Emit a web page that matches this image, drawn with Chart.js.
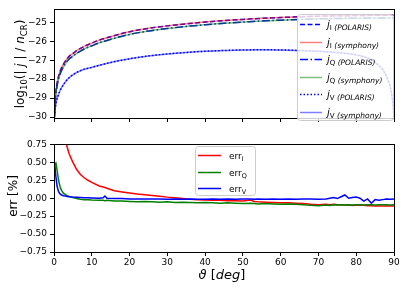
<!DOCTYPE html>
<html lang="en">
<head>
<meta charset="UTF-8">
<script src="https://cdn.jsdelivr.net/npm/chart.js"></script>
<title>j / err</title>
<style>
  body { margin: 0; background: #fff; }
  #top { position: absolute; left: 0; top: 0; width: 407px; height: 136px; }
  #bot { position: absolute; left: 0; top: 136px; width: 407px; height: 152px; }
</style>
</head>
<body>
<div id="top"><canvas id="jPlot"></canvas></div>
<div id="bot"><canvas id="errPlot"></canvas></div>
<script>
// ---- data ----
const thetaTicks = [0, 10, 20, 30, 40, 50, 60, 70, 80, 90];
const jTicks = [-30, -29, -28, -27, -26, -25];
const errTicks = [-0.75, -0.5, -0.25, 0, 0.25, 0.5, 0.75];

const jTheta = [0.1, 0.2, 0.35, 0.5, 0.75, 1, 1.5, 2, 3, 4, 5, 6, 8, 10, 12, 15, 20, 25, 30, 35,
  40, 45, 50, 55, 60, 65, 70, 75, 80, 82, 84, 86, 87, 88, 89, 89.5, 89.8, 89.9];
const jI = [-29.95, -29.4, -28.95, -28.65, -28.3, -28.02, -27.66, -27.4, -27.05, -26.8, -26.65, -26.5,
  -26.27, -26.1, -25.94, -25.76, -25.5, -25.32, -25.19, -25.08, -24.99, -24.91, -24.85, -24.79, -24.75,
  -24.71, -24.68, -24.66, -24.645, -24.64, -24.635, -24.633, -24.632, -24.631, -24.63, -24.63, -24.63, -24.63];
const jQ = [-30.05, -29.54, -29.09, -28.79, -28.44, -28.16, -27.8, -27.54, -27.19, -26.94, -26.79, -26.64,
  -26.41, -26.24, -26.08, -25.9, -25.64, -25.46, -25.33, -25.22, -25.13, -25.05, -24.99, -24.93, -24.89,
  -24.85, -24.82, -24.8, -24.785, -24.78, -24.775, -24.773, -24.772, -24.771, -24.77, -24.77, -24.77, -24.77];
const jV = [-30.0, -29.75, -29.5, -29.3, -29.08, -28.92, -28.65, -28.45, -28.15, -27.93, -27.77, -27.65,
  -27.48, -27.38, -27.27, -27.12, -26.93, -26.78, -26.67, -26.59, -26.53, -26.49, -26.46, -26.455, -26.46,
  -26.49, -26.53, -26.6, -26.72, -26.82, -26.98, -27.28, -27.5, -27.85, -28.4, -28.95, -29.5, -29.8];

const errTheta = [0.2, 0.5, 0.8, 1.2, 1.6, 2, 2.5, 3, 3.5, 4, 5, 6, 7, 8, 9, 10, 12, 13, 13.5, 14,
  16, 18, 20, 22, 24, 26, 28, 30, 32, 34, 36, 38, 40, 42, 44, 46, 48, 50, 52, 53,
  54, 56, 58, 60, 62, 64, 66, 68, 70, 72, 73, 74, 75, 76, 77, 78, 79, 80, 81, 82,
  83, 84, 85, 86, 87, 88, 89, 90];
const errI = [null, null, null, null, 1.5, 1.2, 0.97, 0.82, 0.71, 0.62, 0.5, 0.4, 0.33, 0.285, 0.25,
  0.22, 0.17, 0.155, 0.148, 0.138, 0.105, 0.088, 0.073, 0.058, 0.047, 0.037, 0.028, 0.015, 0.005, -0.005,
  -0.015, -0.02, -0.025, -0.03, -0.03, -0.035, -0.035, -0.04, -0.025, -0.045, -0.05, -0.055, -0.06,
  -0.065, -0.065, -0.07, -0.075, -0.085, -0.09, -0.085, -0.09, -0.085, -0.09, -0.09, -0.095, -0.095,
  -0.1, -0.095, -0.1, -0.1, -0.105, -0.105, -0.11, -0.11, -0.11, -0.11, -0.11, -0.11];
const errQ = [0.47, 0.49, 0.4, 0.25, 0.16, 0.11, 0.07, 0.05, 0.035, 0.025, 0.01, -0.005, -0.015, -0.02,
  -0.02, -0.025, -0.03, -0.03, -0.035, -0.03, -0.04, -0.04, -0.045, -0.05, -0.045, -0.05, -0.055, -0.05,
  -0.06, -0.055, -0.06, -0.065, -0.06, -0.065, -0.07, -0.065, -0.07, -0.075, -0.07, -0.075, -0.08,
  -0.075, -0.08, -0.085, -0.08, -0.085, -0.09, -0.1, -0.105, -0.095, -0.1, -0.09, -0.095, -0.09, -0.095,
  -0.09, -0.095, -0.09, -0.09, -0.095, -0.09, -0.09, -0.095, -0.09, -0.09, -0.09, -0.095, -0.09];
const errV = [0.47, 0.3, 0.17, 0.09, 0.06, 0.045, 0.035, 0.03, 0.025, 0.02, 0.015, 0.012, 0.01, 0.008,
  0.005, 0.003, 0.0, 0.005, 0.03, 0.0, -0.005, -0.005, -0.01, -0.01, -0.012, -0.01, -0.012, -0.015,
  -0.012, -0.015, -0.012, -0.015, -0.015, -0.012, -0.015, -0.012, -0.015, -0.012, -0.01, -0.015,
  -0.012, -0.015, -0.012, -0.015, -0.012, -0.015, -0.012, -0.01, -0.015, -0.01, 0.0, 0.01, -0.005,
  0.02, 0.045, 0.0, 0.01, 0.015, 0.0, -0.04, -0.01, -0.07, -0.02, -0.03, -0.02, -0.01, -0.015, -0.01];

// ---- helpers ----
const FAM = '"DejaVu Sans", sans-serif';
Chart.defaults.font.family = FAM;
Chart.defaults.color = '#000';

function pts(xs, ys) { return xs.map((x, i) => ({ x: x, y: ys[i] })); }
function fmt(v, d) { return (v < 0 ? '\u2212' : '') + Math.abs(v).toFixed(d); }
function f(size, italic) { return (italic ? 'italic ' : '') + size + 'px ' + FAM; }

// draws a run of text pieces with their own font / vertical shift
function rich(ctx, parts, x, y, align) {
  let w = 0;
  parts.forEach(p => { ctx.font = p.f; w += ctx.measureText(p.t).width; });
  let cx = align === 'center' ? x - w / 2 : x;
  parts.forEach(p => {
    ctx.font = p.f;
    ctx.fillText(p.t, cx, y + (p.dy || 0));
    cx += ctx.measureText(p.t).width;
  });
}

const frame = {
  id: 'frame',
  afterDatasetsDraw(chart) {
    const a = chart.chartArea, c = chart.ctx;
    c.save();
    c.strokeStyle = '#000';
    c.lineWidth = 1;
    c.strokeRect(Math.round(a.left) + 0.5, Math.round(a.top) + 0.5,
      Math.round(a.right) - Math.round(a.left), Math.round(a.bottom) - Math.round(a.top));
    c.restore();
  }
};

function legendBox(c, x, y, w, h) {
  c.beginPath();
  c.roundRect(x + 0.5, y + 0.5, w, h, 3);
  c.fillStyle = 'rgba(255,255,255,0.8)';
  c.fill();
  c.strokeStyle = '#cccccc';
  c.lineWidth = 1;
  c.stroke();
}

function xAxis(showLabels, h) {
  return {
    type: 'linear', min: 0, max: 90,
    afterBuildTicks: s => { s.ticks = thetaTicks.map(v => ({ value: v })); },
    afterFit: s => { s.height = h; },
    grid: { drawOnChartArea: false, drawTicks: true, tickLength: 4, color: '#000' },
    border: { display: true, color: '#000', width: 1 },
    ticks: { display: showLabels, padding: 1, maxRotation: 0, font: { size: 9 }, color: '#000' }
  };
}

// ---- top chart: log10 emissivities ----
const jSeries = [
  { lab: 'I', tag: '(POLARIS)', ys: jI, color: '#0000ff', dash: [5, 2.5] },
  { lab: 'I', tag: '(symphony)', ys: jI, color: 'rgba(255,0,0,0.5)', dash: [] },
  { lab: 'Q', tag: '(POLARIS)', ys: jQ, color: '#0000ff', dash: [8, 2.5, 1.5, 2.5] },
  { lab: 'Q', tag: '(symphony)', ys: jQ, color: 'rgba(0,128,0,0.5)', dash: [] },
  { lab: 'V', tag: '(POLARIS)', ys: jV, color: '#0000ff', dash: [1.5, 2] },
  { lab: 'V', tag: '(symphony)', ys: jV, color: 'rgba(0,0,255,0.5)', dash: [] }
];

const topDeco = {
  id: 'topDeco',
  afterDraw(chart) {
    const c = chart.ctx;
    c.save();
    c.fillStyle = '#000';
    c.textBaseline = 'alphabetic';
    // y title
    c.save();
    c.translate(24, 64);
    c.rotate(-Math.PI / 2);
    rich(c, [
      { t: 'log', f: f(12) }, { t: '10', f: f(8.5), dy: 3 },
      { t: '(| ', f: f(12) }, { t: 'j', f: f(12, true) }, { t: ' | / ', f: f(12) },
      { t: 'n', f: f(12, true) }, { t: 'CR', f: f(8.5), dy: 3 }, { t: ')', f: f(12) }
    ], 0, 0, 'center');
    c.restore();
    // legend
    legendBox(c, 297, 14, 96, 106);
    jSeries.forEach((s, i) => {
      const y = Math.round(24 + i * 17.6) + 0.5;
      c.save();
      c.strokeStyle = s.color;
      c.lineWidth = 1.5;
      c.setLineDash(s.dash);
      c.beginPath(); c.moveTo(300, y); c.lineTo(322, y); c.stroke();
      c.restore();
      c.fillStyle = '#000';
      rich(c, [
        { t: 'j', f: f(10, true), dy: 3 }, { t: s.lab, f: f(7), dy: 5.5 },
        { t: ' ' + s.tag, f: f(7.5, true), dy: 5.5 }
      ], 327, y, 'left');
    });
    c.restore();
  }
};

new Chart(document.getElementById('jPlot'), {
  type: 'line',
  data: {
    datasets: jSeries.map((s, i) => ({
      data: pts(jTheta, s.ys),
      borderColor: s.color, borderWidth: 1.5, borderDash: s.dash,
      pointRadius: 0, fill: false, cubicInterpolationMode: 'monotone',
      order: jSeries.length - i
    }))
  },
  options: {
    responsive: true, maintainAspectRatio: false, animation: false,
    layout: { padding: { top: 9, right: 13, left: 0, bottom: 0 } },
    plugins: { legend: { display: false }, tooltip: { enabled: false } },
    scales: {
      x: xAxis(false, 18),
      y: {
        type: 'linear', min: -30.05, max: -24.3,
        afterBuildTicks: s => { s.ticks = jTicks.map(v => ({ value: v })); },
        afterFit: s => { s.width = 54; },
        grid: { drawOnChartArea: false, drawTicks: true, tickLength: 4, color: '#000' },
        border: { display: true, color: '#000', width: 1 },
        ticks: { padding: 3, font: { size: 9 }, color: '#000', callback: v => fmt(v, 0) }
      }
    }
  },
  plugins: [frame, topDeco]
});

// ---- bottom chart: relative errors ----
const errSeries = [
  { lab: 'I', ys: errI, color: '#ff0000' },
  { lab: 'Q', ys: errQ, color: '#008000' },
  { lab: 'V', ys: errV, color: '#0000ff' }
];

const botDeco = {
  id: 'botDeco',
  afterDraw(chart) {
    const c = chart.ctx;
    c.save();
    c.fillStyle = '#000';
    // y title
    c.save();
    c.translate(17, 60);
    c.rotate(-Math.PI / 2);
    rich(c, [{ t: 'err [%]', f: f(12) }], 0, 0, 'center');
    c.restore();
    // x title
    rich(c, [
      { t: '\u03d1', f: f(13, true) }, { t: ' [', f: f(13) },
      { t: 'deg', f: f(13, true) }, { t: ']', f: f(13) }
    ], 222, 143, 'center');
    // legend
    legendBox(c, 195, 10, 60, 49);
    errSeries.forEach((s, i) => {
      const y = Math.round(19 + i * 16.5) + 0.5;
      c.save();
      c.strokeStyle = s.color;
      c.lineWidth = 1.5;
      c.beginPath(); c.moveTo(198, y); c.lineTo(221, y); c.stroke();
      c.restore();
      c.fillStyle = '#000';
      rich(c, [{ t: 'err', f: f(9), dy: 3 }, { t: s.lab, f: f(6.5), dy: 5 }], 229, y, 'left');
    });
    c.restore();
  }
};

new Chart(document.getElementById('errPlot'), {
  type: 'line',
  data: {
    datasets: errSeries.map((s, i) => ({
      data: pts(errTheta, s.ys),
      borderColor: s.color, borderWidth: 1.5,
      pointRadius: 0, fill: false, tension: 0, spanGaps: false,
      order: errSeries.length - i
    }))
  },
  options: {
    responsive: true, maintainAspectRatio: false, animation: false,
    layout: { padding: { top: 6, right: 13, left: 0, bottom: 0 } },
    plugins: { legend: { display: false }, tooltip: { enabled: false } },
    scales: {
      x: xAxis(true, 36),
      y: {
        type: 'linear', min: -0.75, max: 0.75,
        afterBuildTicks: s => { s.ticks = errTicks.map(v => ({ value: v })); },
        afterFit: s => { s.width = 54; },
        grid: { drawOnChartArea: false, drawTicks: true, tickLength: 4, color: '#000' },
        border: { display: true, color: '#000', width: 1 },
        ticks: { padding: 3, font: { size: 9 }, color: '#000', callback: v => fmt(v, 2) }
      }
    }
  },
  plugins: [frame, botDeco]
});
</script>
</body>
</html>
